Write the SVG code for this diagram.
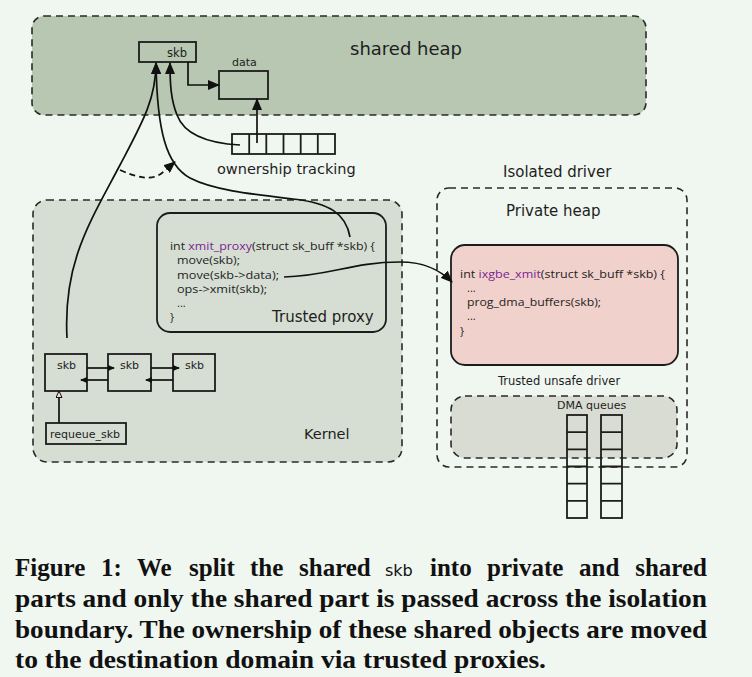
<svg xmlns="http://www.w3.org/2000/svg" width="752" height="677" viewBox="0 0 752 677">
<style>
.bg{fill:#f0f6f0}
.region{stroke:#2a2a2a;stroke-width:1.6;stroke-dasharray:7,5}
.box{fill:none;stroke:#1c1c1c;stroke-width:1.8}
.lbl{font-family:"DejaVu Sans",sans-serif;fill:#1e1e1e}
.code{font-family:"Open Sans",Lato,sans-serif;font-size:11px;fill:#1e1e1e}
.fn{fill:#7a2590}
.conn{fill:none;stroke:#111;stroke-width:1.7}
.cap{font-family:"Liberation Serif",serif;font-weight:bold;font-size:25px;fill:#111}
</style>
<defs>
<marker id="ah" markerUnits="userSpaceOnUse" markerWidth="12" markerHeight="10" refX="11" refY="5" orient="auto">
<path d="M0,0 L12,5 L0,10 z" fill="#111"/>
</marker>
<marker id="sm" markerUnits="userSpaceOnUse" markerWidth="7" markerHeight="6" refX="6" refY="3" orient="auto">
<path d="M0,0 L7,3 L0,6 z" fill="#111"/>
</marker>
<marker id="hol" markerUnits="userSpaceOnUse" markerWidth="8" markerHeight="8" refX="7" refY="3.5" orient="auto">
<path d="M0.5,0.5 L7,3.5 L0.5,6.5 z" fill="#f3d6d6" stroke="#111" stroke-width="1"/>
</marker>
</defs>
<rect class="bg" x="0" y="0" width="752" height="677"/>

<g id="shared-heap">
<rect class="region" x="32" y="16" width="614" height="99" rx="12" fill="#b7c7b1"/>
<text class="lbl" x="350" y="55" font-size="18">shared heap</text>
</g>
<g id="skb-top">
<rect class="box" x="139" y="42" width="57" height="20"/>
<text class="lbl" x="167" y="57" font-size="11.5">skb</text>
</g>
<g id="data">
<rect class="box" x="219" y="71" width="49" height="28"/>
<text class="lbl" x="232" y="66" font-size="11">data</text>
</g>
<g id="ownership">
<rect class="box" x="232" y="134" width="103" height="20"/>
<path class="box" d="M249.2,134V154M266.3,134V154M283.5,134V154M300.7,134V154M317.8,134V154"/>
<text class="lbl" x="217" y="174" font-size="14.5">ownership tracking</text>
</g>

<g id="kernel">
<rect class="region" x="33" y="200" width="369" height="262" rx="14" fill="#d6ddd2"/>
<text class="lbl" x="304" y="439" font-size="14.5">Kernel</text>
</g>
<g id="trusted-proxy">
<rect class="box" x="157" y="213" width="229" height="119" rx="13" fill="#d9dfd5"/>
<text class="code" x="170" y="250" textLength="205" lengthAdjust="spacingAndGlyphs">int <tspan class="fn">xmit_proxy</tspan>(struct sk_buff *skb) {</text>
<text class="code" x="177" y="264" textLength="63" lengthAdjust="spacingAndGlyphs">move(skb);</text>
<text class="code" x="177" y="279" textLength="102" lengthAdjust="spacingAndGlyphs">move(skb-&gt;data);</text>
<text class="code" x="177" y="293" textLength="90" lengthAdjust="spacingAndGlyphs">ops-&gt;xmit(skb);</text>
<text class="code" x="177" y="307">...</text>
<text class="code" x="170" y="321">}</text>
<text class="lbl" x="272" y="322" font-size="15">Trusted proxy</text>
</g>
<g id="skb1">
<rect class="box" x="45" y="354" width="42" height="37"/>
<text class="lbl" x="57" y="369" font-size="11">skb</text>
</g>
<g id="skb2">
<rect class="box" x="108" y="354" width="43" height="37"/>
<text class="lbl" x="120" y="369" font-size="11">skb</text>
</g>
<g id="skb3">
<rect class="box" x="173" y="354" width="42" height="37"/>
<text class="lbl" x="185" y="369" font-size="11">skb</text>
</g>
<g id="requeue">
<rect class="box" x="46" y="423" width="80" height="21"/>
<text class="lbl" x="50" y="438" font-size="11">requeue_skb</text>
</g>

<g id="isolated-driver">
<text class="lbl" x="503" y="177" font-size="15">Isolated driver</text>
<rect class="region" x="437" y="188" width="250" height="279" rx="12" fill="none"/>
<text class="lbl" x="506" y="216" font-size="15">Private heap</text>
</g>
<g id="unsafe-driver">
<rect x="451" y="245" width="227" height="120" rx="14" fill="#f1d1cc" stroke="#1c1c1c" stroke-width="1.8"/>
<text class="code" x="460" y="278" textLength="205" lengthAdjust="spacingAndGlyphs">int <tspan class="fn">ixgbe_xmit</tspan>(struct sk_buff *skb) {</text>
<text class="code" x="467" y="292">...</text>
<text class="code" x="467" y="306" textLength="134" lengthAdjust="spacingAndGlyphs">prog_dma_buffers(skb);</text>
<text class="code" x="467" y="320">...</text>
<text class="code" x="460" y="335">}</text>
<text class="lbl" x="498" y="385" font-size="11.5">Trusted unsafe driver</text>
</g>
<g id="dma-queues">
<rect class="region" x="451" y="396" width="226" height="62" rx="14" fill="#d7d9d0" fill-opacity="0.92"/>
<text class="lbl" x="557" y="409" font-size="11">DMA queues</text>
<rect class="box" x="567" y="415" width="20" height="103"/>
<rect class="box" x="601" y="415" width="21" height="103"/>
<path class="box" d="M567,432.2H587M567,449.3H587M567,466.5H587M567,483.7H587M567,500.8H587M601,432.2H622M601,449.3H622M601,466.5H622M601,483.7H622M601,500.8H622"/>
</g>

<g id="connectors">
<path class="conn" d="M188,62 L188,85 L219,85" marker-end="url(#ah)"/>
<path class="conn" d="M257,143 L257,99" marker-end="url(#ah)"/>
<path class="conn" d="M240,145 C202,143 183,131 177,115 C171,100 170,85 170,63" marker-end="url(#ah)"/>
<path class="conn" d="M67,338 C63,262 90,222 120,165 C141,125 156,100 156,63" marker-end="url(#ah)"/>
<path class="conn" d="M350,237 C346,214 330,203 293,199 C250,194 213,190 190,178 C166,165 157,130 156,63" marker-end="url(#ah)"/>
<path class="conn" d="M120,170 C138,178 152,181 162,173 L175,162" stroke-dasharray="6,4" marker-end="url(#ah)"/>
<path class="conn" d="M284,277 C330,276 352,262 400,262 C425,262 440,270 452,282" marker-end="url(#ah)"/>
<path class="conn" stroke-width="1.5" d="M87,368 L114,368" marker-end="url(#sm)"/>
<path class="conn" stroke-width="1.5" d="M108,380 L81,380" marker-end="url(#sm)"/>
<path class="conn" stroke-width="1.5" d="M151,368 L179,368" marker-end="url(#sm)"/>
<path class="conn" stroke-width="1.5" d="M173,380 L146,380" marker-end="url(#sm)"/>
<path class="conn" stroke-width="1.5" d="M59,423 L59,391" marker-end="url(#hol)"/>
</g>

<g id="caption">
<text class="cap" y="576"><tspan x="15">Figure</tspan><tspan x="101">1:</tspan><tspan x="137">We</tspan><tspan x="189">split</tspan><tspan x="250">the</tspan><tspan x="299">shared</tspan><tspan x="385" font-family="'DejaVu Sans',sans-serif" font-weight="normal" font-size="16">skb</tspan><tspan x="430">into</tspan><tspan x="487">private</tspan><tspan x="579">and</tspan></text>
<text class="cap" x="707" y="576" text-anchor="end">shared</text>
<text class="cap" x="15" y="607" textLength="692" lengthAdjust="spacingAndGlyphs">parts and only the shared part is passed across the isolation</text>
<text class="cap" x="15" y="638" textLength="692" lengthAdjust="spacingAndGlyphs">boundary. The ownership of these shared objects are moved</text>
<text class="cap" x="15" y="668" textLength="531" lengthAdjust="spacingAndGlyphs">to the destination domain via trusted proxies.</text>
</g>
</svg>
